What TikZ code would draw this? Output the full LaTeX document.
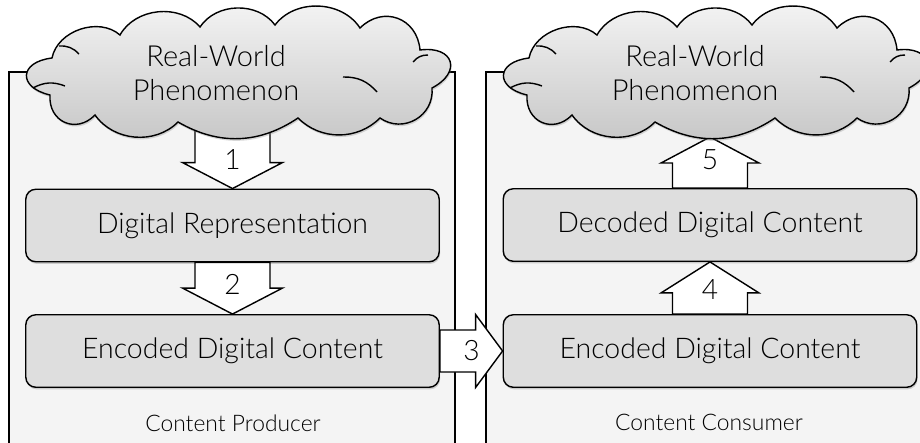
\documentclass[tikz,border=0pt]{standalone}
\usepackage{fontspec}
\setmainfont{Lato Light}
\usetikzlibrary{shadows, calc}

\definecolor{panelgray}{HTML}{F4F4F4}
\definecolor{boxgray}{HTML}{DEDEDE}

% vertical block arrow: from, to, shaft half width, head half width, head length (signed), number
\newcommand{\vblock}[6]{%
  \draw[blockarrow] let \p1=(#1), \p2=(#2), \n1={\y2+(#5)} in
    (\x1-#3,\y1) -- (\x1-#3,\n1) -- (\x1-#4,\n1) -- (\x1,\y2)
    -- (\x1+#4,\n1) -- (\x1+#3,\n1) -- (\x1+#3,\y1) -- cycle
    (\x1,\n1+0.07cm) node[stepnum] (step#6) {#6};
}

\tikzset{
  pics/worldcloud/.style={code={
    \draw[cloudline, top color=gray!8, bottom color=gray!45,
        drop shadow={shadow xshift=0.5pt, shadow yshift=-1.2pt, opacity=0.3}]
      (-189,19) to[bend left=80, looseness=2.3] (-187,-18)
      to[bend left=60] (-119,-41) to[bend left=55] (-39,-49) to[bend left=55] (36,-51)
      to[bend left=55] (121,-48) to[bend left=65, looseness=1.3] (181,-26)
      to[bend left=80, looseness=2.2] (193,12) to[bend left=65, looseness=1.2] (141,42)
      to[bend left=45] (59,42) to[bend left=32] (-61,46) to[bend left=50] (-144,39)
      to[bend left=70, looseness=1.4] (-189,19) -- cycle;
    % inner puff lines
    \draw[cloudline] (-206,12) to[bend left=25] (-174,10);
    \draw[cloudline] (104,1) to[bend left=25] (138,16);
    \draw[cloudline] (174,-14) to[bend left=25] (189,-21);
    \draw[cloudline] (-180,-30) to[bend left=25] (-160,-22);
  }}
}

\begin{document}
\begin{tikzpicture}[x=0.02cm, y=-0.02cm,
    panel/.style={draw=black, line width=0.8pt, fill=panelgray},
    stage/.style={draw=black, line width=0.8pt, fill=boxgray, rounded corners=0.2cm,
      minimum width=8.27cm, minimum height=1.45cm, font=\fontsize{16.2}{19}\selectfont,
      drop shadow={shadow xshift=0.5pt, shadow yshift=-1.2pt, opacity=0.35}},
    cloudline/.style={draw=black, line width=0.8pt},
    worldtext/.style={align=center, font=\fontsize{16.5}{19.8}\selectfont},
    blockarrow/.style={draw=black, line width=0.8pt, fill=white},
    stepnum/.style={font=\fontsize{16}{19}\selectfont, inner sep=0pt},
    caption/.style={font=\fontsize{13}{15}\selectfont}
  ]
  \useasboundingbox (0,0) rectangle (920,443);

  % the two sides
  \draw[panel] (9,72) rectangle (455,470);
  \draw[panel] (486,72) rectangle (935,470);

  % stages
  \node[stage] (digrep) at (232.5,225.5) {Digital Representation};
  \node[stage] (encL) at (232.5,351) {Encoded Digital Content};
  \node[stage] (decR) at (710,225) {Decoded Digital Content};
  \node[stage] (encR) at (710,351) {Encoded Digital Content};

  \node[caption] (producer) at (233,423) {Content Producer};
  \node[caption] (consumer) at (709,422) {Content Consumer};

  % where the arrows meet the clouds
  \coordinate (baseL) at (232.5,80);
  \coordinate (baseR) at (710,137);

  % block arrows
  \vblock{baseL}{digrep.north}{0.75cm}{1cm}{0.52cm}{1}
  \vblock{digrep.south}{encL.north}{0.75cm}{1cm}{0.52cm}{2}
  \vblock{encR.north}{decR.south}{0.75cm}{0.98cm}{-0.62cm}{4}
  \vblock{decR.north}{baseR}{0.75cm}{0.98cm}{-0.52cm}{5}

  \draw[blockarrow] let \p1=(encL.east), \p2=(encR.west), \n1={\x2-0.54cm} in
    (\x1,\y1+0.42cm) -- (\n1,\y1+0.42cm) -- (\n1,\y1+0.73cm) -- (\x2,\y1)
    -- (\n1,\y1-0.73cm) -- (\n1,\y1-0.42cm) -- (\x1,\y1-0.42cm) -- cycle
    (\n1-0.08cm,\y1) node[stepnum] (step3) {3};

  % clouds
  \pic at (239,76) {worldcloud};
  \pic at (716,76) {worldcloud};
  \node[worldtext] (phenL) at (216,73) {Real-World\\Phenomenon};
  \node[worldtext] (phenR) at (695,73) {Real-World\\Phenomenon};
\end{tikzpicture}
\end{document}
